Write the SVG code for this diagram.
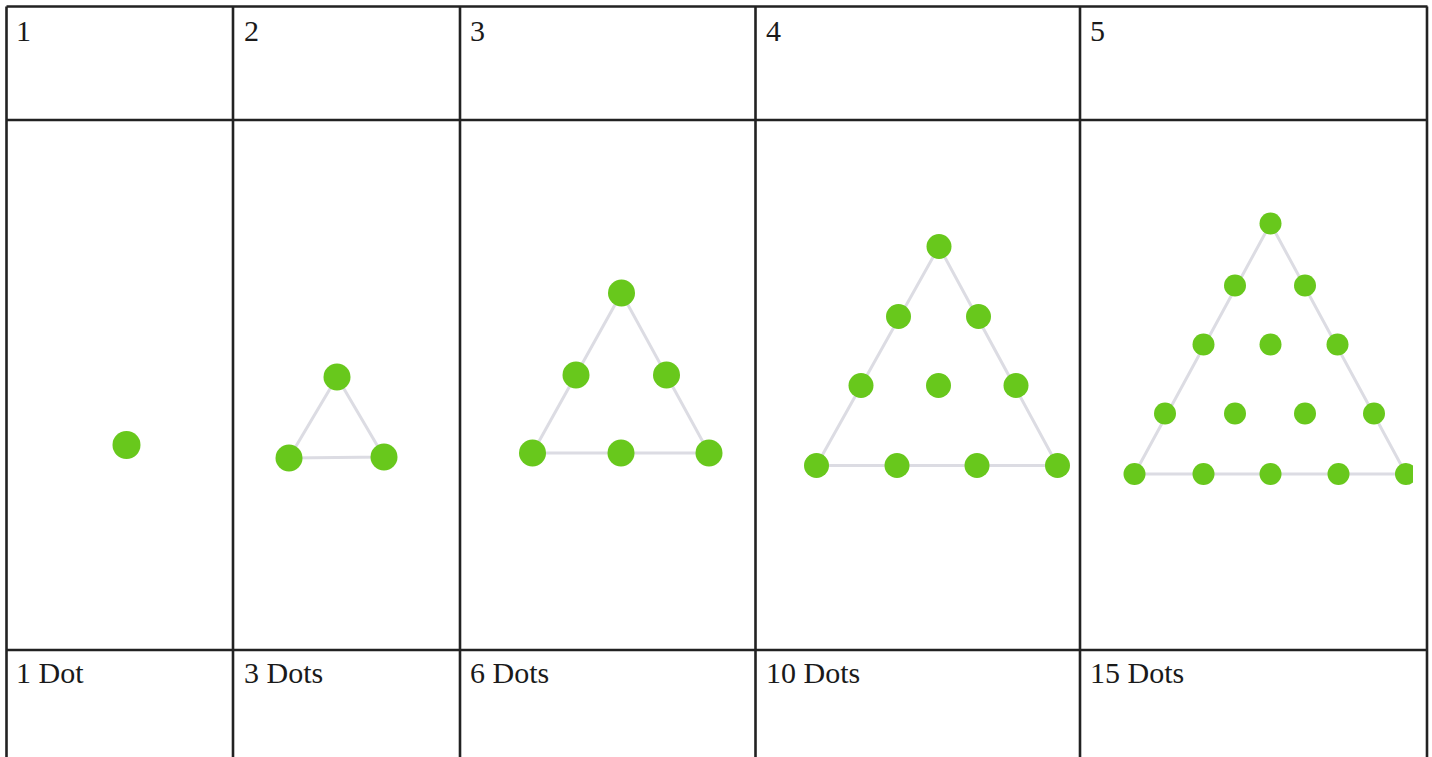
<svg xmlns="http://www.w3.org/2000/svg" width="1432" height="757" viewBox="0 0 1432 757">
<defs>
<style>
.grid{stroke:#222;stroke-width:2.6;fill:none}
.t{font-family:"Liberation Serif","Times New Roman",serif;font-size:30px;fill:#1a1a1a}
.e{stroke:#dcdce3;stroke-width:3;fill:none}
.d{fill:#68c81c}
</style>
<clipPath id="c5"><rect x="1090" y="190" width="323" height="310"/></clipPath>
</defs>
<rect width="1432" height="757" fill="#fff"/>
<g id="table">
<path class="grid" d="M6.5 6.5H1427.5M6.5 120H1427.5M6.5 650H1427.5M6.5 6.5V757M233 6.5V757M460 6.5V757M755.5 6.5V757M1080 6.5V757M1427 6.5V757"/>
</g>
<g id="headers">
<text class="t" x="16" y="41">1</text>
<text class="t" x="244" y="41">2</text>
<text class="t" x="470" y="41">3</text>
<text class="t" x="766" y="41">4</text>
<text class="t" x="1090" y="41">5</text>
</g>
<g id="labels">
<text class="t" x="16" y="683">1 Dot</text>
<text class="t" x="244" y="683">3 Dots</text>
<text class="t" x="470" y="683">6 Dots</text>
<text class="t" x="766" y="683">10 Dots</text>
<text class="t" x="1090" y="683">15 Dots</text>
</g>
<g id="connectors">
<polygon class="e" points="337,377 289,458 384,457"/>
<polygon class="e" points="621.5,293 532.5,453 709,453"/>
<polygon class="e" points="939,246.5 816.5,465.5 1057.5,465.5"/>
<polygon class="e" points="1270.5,223.5 1134.5,474 1406,474" clip-path="url(#c5)"/>
</g>
<g id="fig1">
<circle class="d" cx="126.5" cy="445" r="14"/>
</g>
<g id="fig2">
<circle class="d" cx="337" cy="377" r="13.5"/>
<circle class="d" cx="289" cy="458" r="13.5"/>
<circle class="d" cx="384" cy="457" r="13.5"/>
</g>
<g id="fig3">
<circle class="d" cx="621.5" cy="293" r="13.5"/>
<circle class="d" cx="576" cy="375" r="13.5"/>
<circle class="d" cx="666.5" cy="375" r="13.5"/>
<circle class="d" cx="532.5" cy="453" r="13.5"/>
<circle class="d" cx="621" cy="453" r="13.5"/>
<circle class="d" cx="709" cy="453" r="13.5"/>
</g>
<g id="fig4">
<circle class="d" cx="939" cy="246.5" r="12.5"/>
<circle class="d" cx="898.5" cy="316.5" r="12.5"/>
<circle class="d" cx="978.5" cy="316.5" r="12.5"/>
<circle class="d" cx="861" cy="385.5" r="12.5"/>
<circle class="d" cx="938.5" cy="385.5" r="12.5"/>
<circle class="d" cx="1016" cy="385.5" r="12.5"/>
<circle class="d" cx="816.5" cy="465.5" r="12.5"/>
<circle class="d" cx="897" cy="465.5" r="12.5"/>
<circle class="d" cx="977" cy="465.5" r="12.5"/>
<circle class="d" cx="1057.5" cy="465.5" r="12.5"/>
</g>
<g id="fig5" clip-path="url(#c5)">
<circle class="d" cx="1270.5" cy="223.5" r="11"/>
<circle class="d" cx="1235" cy="285.5" r="11"/>
<circle class="d" cx="1305" cy="285.5" r="11"/>
<circle class="d" cx="1203.5" cy="344.5" r="11"/>
<circle class="d" cx="1270.5" cy="344.5" r="11"/>
<circle class="d" cx="1337.5" cy="344.5" r="11"/>
<circle class="d" cx="1165" cy="413.5" r="11"/>
<circle class="d" cx="1235" cy="413.5" r="11"/>
<circle class="d" cx="1305" cy="413.5" r="11"/>
<circle class="d" cx="1374" cy="413.5" r="11"/>
<circle class="d" cx="1134.5" cy="474" r="11"/>
<circle class="d" cx="1203.5" cy="474" r="11"/>
<circle class="d" cx="1270.5" cy="474" r="11"/>
<circle class="d" cx="1338.5" cy="474" r="11"/>
<circle class="d" cx="1406" cy="474" r="11"/>
</g>
</svg>
